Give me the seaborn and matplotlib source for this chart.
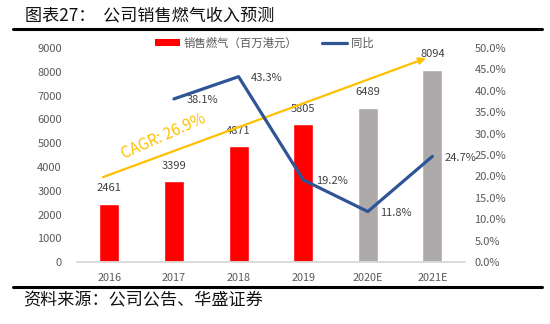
import matplotlib
matplotlib.use("Agg")
import matplotlib.pyplot as plt
import seaborn as sns
import pandas as pd
from matplotlib.patches import Patch
from matplotlib.lines import Line2D
from matplotlib.ticker import FuncFormatter, MultipleLocator

years = ["2016", "2017", "2018", "2019", "2020E", "2021E"]
sales = [2461, 3399, 4871, 5805, 6489, 8094]
yoy_years = ["2017", "2018", "2019", "2020E", "2021E"]
yoy = [38.1, 43.3, 19.2, 11.8, 24.7]
bar_colors = ["#FF0000", "#FF0000", "#FF0000", "#FF0000", "#AEAAAA", "#AEAAAA"]
title = "图表27：  公司销售燃气收入预测"
source = "资料来源：公司公告、华盛证券"
bar_label = "销售燃气（百万港元）"
line_label = "同比"
cagr_text = "CAGR: 26.9%"

sns.set_theme(style="white")
plt.rcParams['font.family'] = ['Noto Sans CJK SC', 'DejaVu Sans']

fig = plt.figure(figsize=(5.5, 3.24), dpi=100)
ax = fig.add_axes([0.14, 0.191, 0.705, 0.661])

df = pd.DataFrame({"year": years, "sales": sales})
sns.barplot(data=df, x="year", y="sales", hue="year", palette=bar_colors,
            order=years, hue_order=years, width=0.31, legend=False, ax=ax,
            saturation=1)
ax.set_ylim(0, 9000)
ax.set_xlim(-0.5, len(years) - 0.5)
ax.yaxis.set_major_locator(MultipleLocator(1000))
ax.set_xlabel("")
ax.set_ylabel("")
for s in ["left", "right", "top"]:
    ax.spines[s].set_visible(False)
ax.spines["bottom"].set_color("#D9D9D9")
ax.spines["bottom"].set_linewidth(1.3)
ax.tick_params(axis="y", length=0, labelsize=8, colors="#595959", pad=11)
ax.tick_params(axis="x", length=0, labelsize=7.8, colors="#595959", pad=8)

for i, v in enumerate(sales):
    ax.annotate(f"{v}", (i, v), xytext=(0, 11), textcoords="offset points",
                ha="center", va="center", fontsize=8, color="#404040")

ax2 = ax.twinx()
pos = [years.index(y) for y in yoy_years]
ldf = pd.DataFrame({"x": pos, "yoy": yoy})
sns.lineplot(data=ldf, x="x", y="yoy", ax=ax2, color="#2F5597", linewidth=2.3)
ax2.set_ylim(0, 50)
ax2.yaxis.set_major_locator(MultipleLocator(5))
ax2.yaxis.set_major_formatter(FuncFormatter(lambda v, p: f"{v:.1f}%"))
ax2.set_xlabel("")
ax2.set_ylabel("")
for s in ["left", "right", "top", "bottom"]:
    ax2.spines[s].set_visible(False)
ax2.tick_params(axis="y", length=0, labelsize=8, colors="#595959", pad=7)
for x, v in zip(pos, yoy):
    ax2.annotate(f"{v:.1f}%", (x, v), xytext=(9, -1), textcoords="offset points",
                 ha="left", va="center", fontsize=8, color="#404040")

# CAGR arrow
ax.annotate("", xy=(4.9, 8570), xytext=(-0.1, 3570),
            arrowprops=dict(arrowstyle="-|>", color="#FFC000", lw=1.6,
                            mutation_scale=10, shrinkA=0, shrinkB=0),
            zorder=5)
ax.text(0.84, 5300, cagr_text, rotation=24, ha="center", va="center",
        fontsize=11, color="#FFC000", rotation_mode="anchor")

handles = [Patch(facecolor="#FF0000", edgecolor="none"),
           Line2D([0], [0], color="#2F5597", lw=2.3)]
fig.legend(handles, [bar_label, line_label], loc="center",
           bbox_to_anchor=(0.48, 0.867), ncol=2, frameon=False, fontsize=8.2,
           handlelength=2.2, handleheight=0.6, columnspacing=2.2,
           handletextpad=0.3, labelcolor="#595959")

fig.text(0.045, 0.953, title, fontsize=12.3, color="#111111", ha="left", va="center")
fig.add_artist(Line2D([0.024, 0.985], [0.909, 0.909], color="black", lw=2.2,
                      transform=fig.transFigure))
fig.add_artist(Line2D([0.024, 0.985], [0.114, 0.114], color="black", lw=2.2,
                      transform=fig.transFigure))
fig.text(0.042, 0.072, source, fontsize=12.3, color="#111111", ha="left", va="center")

fig.savefig("out.png", dpi=100)
